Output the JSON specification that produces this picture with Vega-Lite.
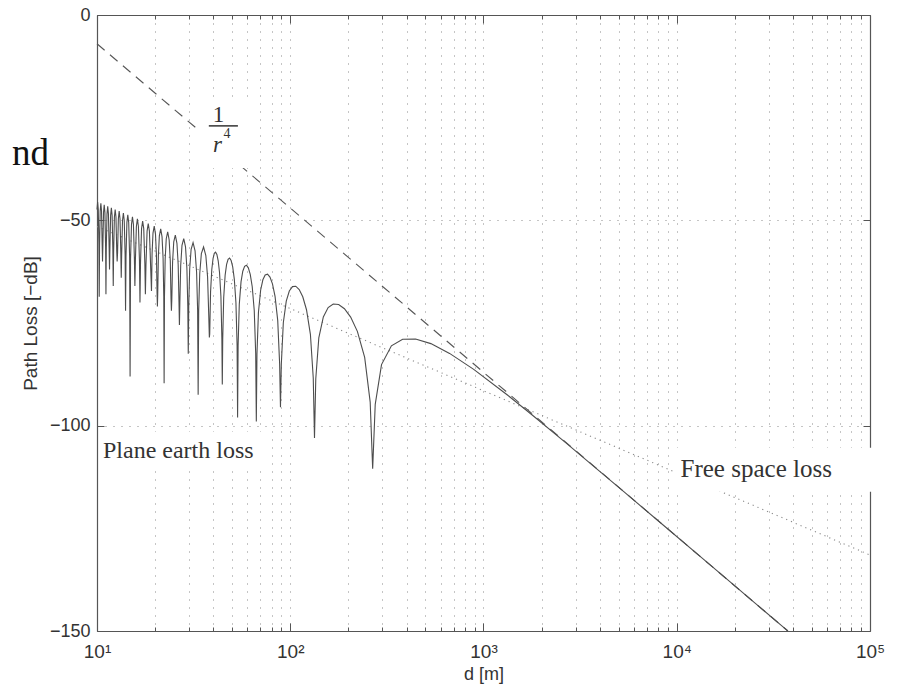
{
  "$schema": "https://vega.github.io/schema/vega-lite/v6.json",
  "width": 773,
  "height": 616,
  "autosize": "none",
  "padding": {"left": 97, "top": 15, "right": 29, "bottom": 57},
  "background": "white",
  "config": {"view": {"stroke": null}},
  "datasets": {
    "free": [{"d": 10, "pl": -51.49}, {"d": 100000, "pl": -131.49}],
    "r4": [{"d": 10, "pl": -7.0}, {"d": 37590, "pl": -150}],
    "plane": [
      {"d": 10.0, "pl": -47.37}, {"d": 10.075, "pl": -45.54}, {"d": 10.152, "pl": -47.37}, {"d": 10.23, "pl": -55.74}, {"d": 10.269, "pl": -68.6},
      {"d": 10.309, "pl": -56.07}, {"d": 10.389, "pl": -47.71}, {"d": 10.471, "pl": -45.87}, {"d": 10.553, "pl": -47.71}, {"d": 10.637, "pl": -56.07}, {"d": 10.68, "pl": -60},
      {"d": 10.723, "pl": -56.42}, {"d": 10.81, "pl": -48.06}, {"d": 10.898, "pl": -46.22}, {"d": 10.988, "pl": -48.06}, {"d": 11.079, "pl": -56.42}, {"d": 11.125, "pl": -68},
      {"d": 11.172, "pl": -56.78}, {"d": 11.266, "pl": -48.42}, {"d": 11.362, "pl": -46.58}, {"d": 11.459, "pl": -48.42}, {"d": 11.558, "pl": -56.78}, {"d": 11.609, "pl": -62},
      {"d": 11.659, "pl": -57.16}, {"d": 11.762, "pl": -48.8}, {"d": 11.867, "pl": -46.96}, {"d": 11.973, "pl": -48.8}, {"d": 12.081, "pl": -57.16}, {"d": 12.136, "pl": -66},
      {"d": 12.192, "pl": -57.55}, {"d": 12.304, "pl": -49.19}, {"d": 12.419, "pl": -47.35}, {"d": 12.535, "pl": -49.19}, {"d": 12.654, "pl": -57.55}, {"d": 12.714, "pl": -60},
      {"d": 12.775, "pl": -57.96}, {"d": 12.899, "pl": -49.6}, {"d": 13.024, "pl": -47.76}, {"d": 13.153, "pl": -49.6}, {"d": 13.284, "pl": -57.96}, {"d": 13.35, "pl": -64},
      {"d": 13.417, "pl": -58.4}, {"d": 13.553, "pl": -50.04}, {"d": 13.692, "pl": -48.2}, {"d": 13.834, "pl": -50.04}, {"d": 13.979, "pl": -58.4}, {"d": 14.053, "pl": -72},
      {"d": 14.127, "pl": -58.86}, {"d": 14.278, "pl": -50.5}, {"d": 14.432, "pl": -48.66}, {"d": 14.59, "pl": -50.5}, {"d": 14.751, "pl": -58.86}, {"d": 14.833, "pl": -88},
      {"d": 14.916, "pl": -59.34}, {"d": 15.085, "pl": -50.98}, {"d": 15.257, "pl": -49.14}, {"d": 15.434, "pl": -50.98}, {"d": 15.614, "pl": -59.34}, {"d": 15.706, "pl": -66},
      {"d": 15.799, "pl": -59.85}, {"d": 15.988, "pl": -51.49}, {"d": 16.182, "pl": -49.65}, {"d": 16.38, "pl": -51.49}, {"d": 16.584, "pl": -59.85}, {"d": 16.688, "pl": -70},
      {"d": 16.792, "pl": -60.39}, {"d": 17.006, "pl": -52.03}, {"d": 17.226, "pl": -50.19}, {"d": 17.451, "pl": -52.03}, {"d": 17.682, "pl": -60.39}, {"d": 17.8, "pl": -68},
      {"d": 17.919, "pl": -60.97}, {"d": 18.163, "pl": -52.61}, {"d": 18.414, "pl": -50.77}, {"d": 18.671, "pl": -52.61}, {"d": 18.936, "pl": -60.97}, {"d": 19.071, "pl": -65},
      {"d": 19.14, "pl": -67.21}, {"d": 19.278, "pl": -58.02}, {"d": 19.489, "pl": -53.1}, {"d": 19.778, "pl": -51.39}, {"d": 20.075, "pl": -53.36}, {"d": 20.304, "pl": -58.48}, {"d": 20.46, "pl": -67.79}, {"d": 20.538, "pl": -71},
      {"d": 20.618, "pl": -67.86}, {"d": 20.778, "pl": -58.68}, {"d": 21.024, "pl": -53.76}, {"d": 21.36, "pl": -52.06}, {"d": 21.707, "pl": -54.04}, {"d": 21.975, "pl": -59.16}, {"d": 22.158, "pl": -68.48}, {"d": 22.25, "pl": -89.7},
      {"d": 22.343, "pl": -68.56}, {"d": 22.532, "pl": -59.39}, {"d": 22.821, "pl": -54.48}, {"d": 23.217, "pl": -52.79}, {"d": 23.628, "pl": -54.78}, {"d": 23.946, "pl": -59.91}, {"d": 24.163, "pl": -69.24}, {"d": 24.273, "pl": -72},
      {"d": 24.384, "pl": -69.32}, {"d": 24.608, "pl": -60.15}, {"d": 24.953, "pl": -55.25}, {"d": 25.429, "pl": -53.58}, {"d": 25.922, "pl": -55.59}, {"d": 26.305, "pl": -60.73}, {"d": 26.567, "pl": -70.06}, {"d": 26.7, "pl": -75.5},
      {"d": 26.834, "pl": -70.15}, {"d": 27.107, "pl": -60.99}, {"d": 27.526, "pl": -56.11}, {"d": 28.105, "pl": -54.45}, {"d": 28.71, "pl": -56.47}, {"d": 29.18, "pl": -61.63}, {"d": 29.503, "pl": -70.97}, {"d": 29.667, "pl": -82.5},
      {"d": 29.832, "pl": -71.06}, {"d": 30.169, "pl": -61.91}, {"d": 30.69, "pl": -57.05}, {"d": 31.412, "pl": -55.41}, {"d": 32.169, "pl": -57.45}, {"d": 32.761, "pl": -62.63}, {"d": 33.168, "pl": -71.98}, {"d": 33.375, "pl": -92.5},
      {"d": 33.585, "pl": -72.09}, {"d": 34.013, "pl": -62.95}, {"d": 34.675, "pl": -58.11}, {"d": 35.6, "pl": -56.5}, {"d": 36.575, "pl": -58.57}, {"d": 37.343, "pl": -63.77}, {"d": 37.872, "pl": -73.14}, {"d": 38.143, "pl": -78.5},
      {"d": 38.307, "pl": -77.67}, {"d": 38.696, "pl": -67.42}, {"d": 39.265, "pl": -61.97}, {"d": 39.851, "pl": -59.32}, {"d": 40.455, "pl": -58.05}, {"d": 41.077, "pl": -57.74}, {"d": 41.719, "pl": -58.32}, {"d": 42.381, "pl": -59.85}, {"d": 43.065, "pl": -62.77}, {"d": 43.77, "pl": -68.49}, {"d": 44.279, "pl": -78.92}, {"d": 44.5, "pl": -90},
      {"d": 44.724, "pl": -79.01}, {"d": 45.254, "pl": -68.78}, {"d": 46.034, "pl": -63.35}, {"d": 46.842, "pl": -60.72}, {"d": 47.679, "pl": -59.48}, {"d": 48.545, "pl": -59.19}, {"d": 49.444, "pl": -59.79}, {"d": 50.377, "pl": -61.35}, {"d": 51.346, "pl": -64.3}, {"d": 52.353, "pl": -70.05}, {"d": 53.082, "pl": -80.5}, {"d": 53.4, "pl": -98},
      {"d": 53.722, "pl": -80.6}, {"d": 54.49, "pl": -70.4}, {"d": 55.625, "pl": -64.99}, {"d": 56.809, "pl": -62.4}, {"d": 58.043, "pl": -61.19}, {"d": 59.333, "pl": -60.94}, {"d": 60.682, "pl": -61.57}, {"d": 62.093, "pl": -63.17}, {"d": 63.571, "pl": -66.16}, {"d": 65.122, "pl": -71.94}, {"d": 66.253, "pl": -82.42}, {"d": 66.75, "pl": -99},
      {"d": 67.254, "pl": -82.55}, {"d": 68.462, "pl": -72.38}, {"d": 70.263, "pl": -67.02}, {"d": 72.162, "pl": -64.48}, {"d": 74.167, "pl": -63.31}, {"d": 76.286, "pl": -63.12}, {"d": 78.529, "pl": -63.81}, {"d": 80.909, "pl": -65.47}, {"d": 83.438, "pl": -68.52}, {"d": 86.129, "pl": -74.37}, {"d": 88.119, "pl": -84.9}, {"d": 89.0, "pl": -95.5},
      {"d": 89.899, "pl": -85.08}, {"d": 92.069, "pl": -74.95}, {"d": 95.357, "pl": -69.68}, {"d": 98.889, "pl": -67.21}, {"d": 102.692, "pl": -66.14}, {"d": 106.8, "pl": -66.04}, {"d": 111.25, "pl": -66.84}, {"d": 116.087, "pl": -68.61}, {"d": 121.364, "pl": -71.77}, {"d": 127.143, "pl": -77.76}, {"d": 131.527, "pl": -88.38}, {"d": 133.5, "pl": -103},
      {"d": 135.533, "pl": -88.64}, {"d": 140.526, "pl": -78.63}, {"d": 148.333, "pl": -73.52}, {"d": 157.059, "pl": -71.23}, {"d": 166.875, "pl": -70.36}, {"d": 178.0, "pl": -70.48}, {"d": 190.714, "pl": -71.52}, {"d": 205.385, "pl": -73.56}, {"d": 222.5, "pl": -77.04}, {"d": 242.727, "pl": -83.37}, {"d": 259.223, "pl": -94.27}, {"d": 267, "pl": -110.5},
      {"d": 275.26, "pl": -94.8}, {"d": 296.67, "pl": -85.12}, {"d": 333.75, "pl": -80.56}, {"d": 381.43, "pl": -78.94}, {"d": 445, "pl": -78.88}, {"d": 534, "pl": -80.02}, {"d": 667.5, "pl": -82.4}, {"d": 890, "pl": -86.3}, {"d": 1335, "pl": -92.6}, {"d": 1780, "pl": -97.34}, {"d": 2670, "pl": -104.2}, {"d": 3814, "pl": -110.32}, {"d": 5340, "pl": -116.13}, {"d": 8900, "pl": -124.99}, {"d": 13350, "pl": -132.02}, {"d": 17800, "pl": -137.02}, {"d": 26700, "pl": -144.06}, {"d": 35600, "pl": -149.06}, {"d": 37590, "pl": -150}
    ]
  },
  "resolve": {"scale": {"x": "shared", "y": "shared"}, "axis": {"x": "independent", "y": "independent"}},
  "layer": [
    {
      "data": {"name": "free"},
      "mark": {"type": "line", "color": "#8a8a8a", "strokeWidth": 1.1, "strokeDash": [1.2, 4]},
      "encoding": {
        "x": {"field": "d", "type": "quantitative",
          "scale": {"type": "log", "domain": [10, 100000], "nice": false},
          "axis": {"orient": "bottom",
            "values": [10,20,30,40,50,60,70,80,90,100,200,300,400,500,600,700,800,900,1000,2000,3000,4000,5000,6000,7000,8000,9000,10000,20000,30000,40000,50000,60000,70000,80000,90000,100000],
            "labelExpr": "datum.value == 10 ? '10¹' : datum.value == 100 ? '10²' : datum.value == 1000 ? '10³' : datum.value == 10000 ? '10⁴' : datum.value == 100000 ? '10⁵' : ''",
            "labelFont": "Liberation Sans", "labelFontSize": 19, "labelColor": "#333", "labelPadding": 19,
            "labelFlush": false, "labelOverlap": false, "labelBound": false,
            "tickSize": {"condition": {"test": "indexof([10,100,1000,10000,100000], datum.value) >= 0", "value": -8}, "value": -4},
            "tickColor": "#555", "tickWidth": 1,
            "domain": true, "domainColor": "#555", "domainWidth": 1.2,
            "grid": true, "gridColor": "#8a8a8a", "gridDash": [1, 7], "gridWidth": 1,
            "title": "d [m]", "titleFont": "Liberation Sans", "titleFontSize": 18, "titleFontWeight": "normal", "titleColor": "#333", "titlePadding": 0}},
        "y": {"field": "pl", "type": "quantitative",
          "scale": {"domain": [-150, 0], "nice": false, "zero": false},
          "axis": {"orient": "left", "values": [-150, -100, -50, 0],
            "labelFont": "Liberation Sans", "labelFontSize": 18, "labelColor": "#333", "labelPadding": 14,
            "labelFlush": false, "labelOverlap": false, "labelBound": false,
            "tickSize": -7, "tickColor": "#555",
            "domain": true, "domainColor": "#555", "domainWidth": 1.2,
            "grid": true, "gridColor": "#8a8a8a", "gridDash": [1, 7], "gridWidth": 1,
            "title": "Path Loss [−dB]", "titleFont": "Liberation Sans", "titleFontSize": 19, "titleFontWeight": "normal", "titleColor": "#333", "titlePadding": 9}}
      }
    },
    {
      "data": {"name": "r4"},
      "mark": {"type": "line", "color": "#555", "strokeWidth": 1.1, "strokeDash": [10, 7]},
      "encoding": {
        "x": {"field": "d", "type": "quantitative",
          "axis": {"orient": "top",
            "values": [10,20,30,40,50,60,70,80,90,100,200,300,400,500,600,700,800,900,1000,2000,3000,4000,5000,6000,7000,8000,9000,10000,20000,30000,40000,50000,60000,70000,80000,90000,100000],
            "labels": false,
            "tickSize": {"condition": {"test": "indexof([10,100,1000,10000,100000], datum.value) >= 0", "value": -8}, "value": -4},
            "tickColor": "#555", "domain": true, "domainColor": "#555", "domainWidth": 1.2, "grid": false, "title": null}},
        "y": {"field": "pl", "type": "quantitative",
          "axis": {"orient": "right", "values": [-150, -100, -50, 0], "labels": false,
            "tickSize": -7, "tickColor": "#555", "domain": true, "domainColor": "#555", "domainWidth": 1.2, "grid": false, "title": null}}
      }
    },
    {
      "data": {"name": "plane"},
      "mark": {"type": "line", "color": "#4d4d4d", "strokeWidth": 1.1},
      "encoding": {
        "x": {"field": "d", "type": "quantitative", "axis": null},
        "y": {"field": "pl", "type": "quantitative", "axis": null}
      }
    },
    {
      "data": {"values": [{}]},
      "mark": {"type": "rect", "color": "white"},
      "encoding": {"x": {"datum": 10.36, "axis": null}, "x2": {"datum": 76.6}, "y": {"datum": -101.5, "axis": null}, "y2": {"datum": -110.3}}
    },
    {
      "data": {"values": [{}]},
      "mark": {"type": "rect", "color": "white"},
      "encoding": {"x": {"datum": 34.1, "axis": null}, "x2": {"datum": 63.3}, "y": {"datum": -20.7, "axis": null}, "y2": {"datum": -37.25}}
    },
    {
      "data": {"values": [{}]},
      "mark": {"type": "rect", "color": "white"},
      "encoding": {"x": {"datum": 9862, "axis": null}, "x2": {"datum": 118600}, "y": {"datum": -105.4, "axis": null}, "y2": {"datum": -116.1}}
    },
    {
      "data": {"values": [{}]},
      "mark": {"type": "text", "font": "Liberation Serif", "fontSize": 37, "align": "left", "baseline": "alphabetic", "color": "#111"},
      "encoding": {"x": {"datum": 3.635, "axis": null}, "y": {"datum": -36.5, "axis": null}, "text": {"value": "nd"}}
    },
    {
      "data": {"values": [{}]},
      "mark": {"type": "text", "font": "Liberation Serif", "fontSize": 23, "align": "center", "baseline": "alphabetic", "color": "#333"},
      "encoding": {"x": {"datum": 42.48, "axis": null}, "y": {"datum": -26.05, "axis": null}, "text": {"value": "1"}}
    },
    {
      "data": {"values": [{}]},
      "mark": {"type": "rule", "color": "#333", "strokeWidth": 1.5},
      "encoding": {"x": {"datum": 37.9, "axis": null}, "x2": {"datum": 53.6}, "y": {"datum": -27.0, "axis": null}}
    },
    {
      "data": {"values": [{}]},
      "mark": {"type": "text", "font": "Liberation Serif", "fontSize": 23, "fontStyle": "italic", "align": "left", "baseline": "alphabetic", "color": "#333"},
      "encoding": {"x": {"datum": 39.8, "axis": null}, "y": {"datum": -33.36, "axis": null}, "text": {"value": "r"}}
    },
    {
      "data": {"values": [{}]},
      "mark": {"type": "text", "font": "Liberation Serif", "fontSize": 14, "align": "left", "baseline": "alphabetic", "color": "#333"},
      "encoding": {"x": {"datum": 45.1, "axis": null}, "y": {"datum": -29.95, "axis": null}, "text": {"value": "4"}}
    },
    {
      "data": {"values": [{}]},
      "mark": {"type": "text", "font": "Liberation Serif", "fontSize": 24, "align": "left", "baseline": "alphabetic", "color": "#333"},
      "encoding": {"x": {"datum": 10.74, "axis": null}, "y": {"datum": -107.87, "axis": null}, "text": {"value": "Plane earth loss"}}
    },
    {
      "data": {"values": [{}]},
      "mark": {"type": "text", "font": "Liberation Serif", "fontSize": 25, "align": "left", "baseline": "alphabetic", "color": "#333"},
      "encoding": {"x": {"datum": 10462, "axis": null}, "y": {"datum": -112.49, "axis": null}, "text": {"value": "Free space loss"}}
    }
  ]
}
